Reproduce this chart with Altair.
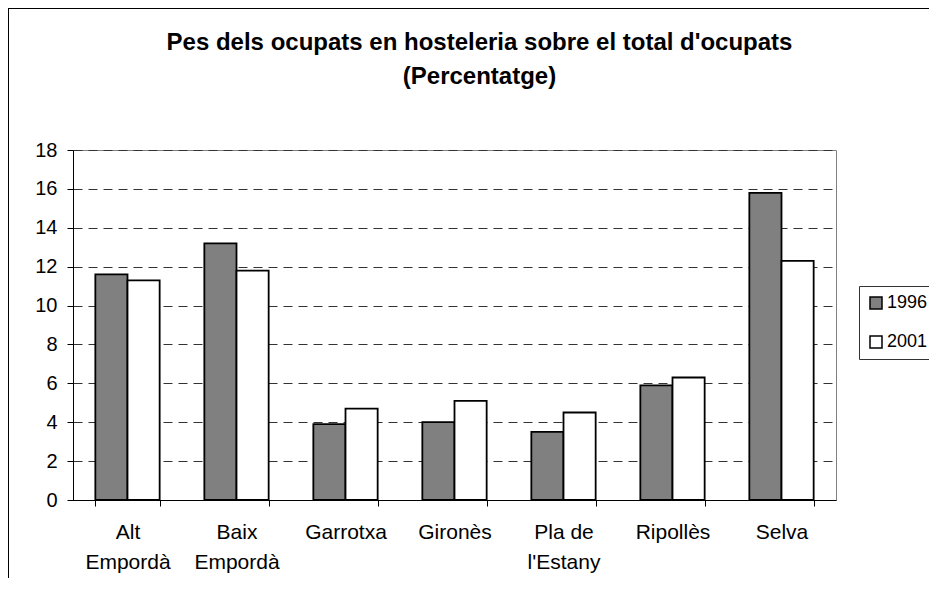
import altair as alt
import pandas as pd

categories = ["Alt Empordà", "Baix Empordà", "Garrotxa", "Gironès",
              "Pla de l'Estany", "Ripollès", "Selva"]
years = ["1996", "2001"]
values_1996 = [11.6, 13.2, 3.9, 4.0, 3.5, 5.9, 15.8]
values_2001 = [11.3, 11.8, 4.7, 5.1, 4.5, 6.3, 12.3]
y_ticks = [0, 2, 4, 6, 8, 10, 12, 14, 16, 18]
title_lines = ["Pes dels ocupats en hosteleria sobre el total d'ocupats",
               "(Percentatge)"]
year_colors = ["#808080", "#ffffff"]

rows = []
for c, a, b in zip(categories, values_1996, values_2001):
    rows.append({"region": c, "year": years[0], "value": a})
    rows.append({"region": c, "year": years[1], "value": b})
df = pd.DataFrame(rows)

FONT = "Liberation Sans, Arial, sans-serif"

label_expr = ("datum.label == \"Pla de l'Estany\" ? [\"Pla de\", \"l'Estany\"] : "
              "split(datum.label, ' ')")

bars = alt.Chart(df).mark_bar(stroke="black", strokeWidth=1.8).encode(
    x=alt.X("region:N", sort=categories,
            scale=alt.Scale(paddingInner=0.41, paddingOuter=0.205),
            axis=alt.Axis(title=None, labelAngle=0, labelFontSize=21,
                          labelLineHeight=30, labelPadding=15,
                          labelExpr=label_expr, tickBand="extent", tickSize=6,
                          domainColor="black", tickColor="black",
                          labelColor="black", grid=False, labelOverlap=False,
                          labelFont=FONT)),
    xOffset=alt.XOffset("year:N", sort=years,
                        scale=alt.Scale(paddingInner=0, paddingOuter=0)),
    y=alt.Y("value:Q", scale=alt.Scale(domain=[0, 18], nice=False),
            axis=alt.Axis(title=None, values=y_ticks, labelFontSize=20,
                          labelPadding=10, tickSize=6, domainColor="black",
                          tickColor="black", labelColor="black", grid=True,
                          gridDash=[9, 6], gridColor="#333333", gridWidth=1,
                          labelFont=FONT)),
    color=alt.Color("year:N", sort=years,
                    scale=alt.Scale(domain=years, range=year_colors),
                    legend=alt.Legend(title=None, orient="none", legendX=786,
                                      legendY=136, strokeColor="#333333",
                                      fillColor="white", padding=8,
                                      rowPadding=21, symbolType="square",
                                      symbolSize=144, symbolStrokeColor="black",
                                      symbolStrokeWidth=1.5, labelFontSize=18,
                                      labelOffset=2, labelFont=FONT,
                                      labelColor="black")),
)

one = alt.Data(values=[{}])
frame_top = alt.Chart(one).mark_rule(color="black", strokeWidth=1).encode(
    x=alt.value(-65), x2=alt.value(870), y=alt.value(-141.5)
)
frame_left = alt.Chart(one).mark_rule(color="black", strokeWidth=1).encode(
    x=alt.value(-64.5), y=alt.value(-142), y2=alt.value(440)
)

chart = alt.layer(frame_top, frame_left, bars).properties(
    width=763, height=350,
    autosize=alt.AutoSizeParams(type="none"),
    padding={"left": 65, "top": 142, "right": 93, "bottom": 78},
    title=alt.TitleParams(text=title_lines, fontSize=24, fontWeight="bold",
                          font=FONT, lineHeight=34, dx=25, offset=-81,
                          anchor="middle", color="black"),
    background="white",
).configure_view(stroke="#808080", strokeWidth=1)

chart.save("out.html", embed_options={"renderer": "svg", "actions": False})
